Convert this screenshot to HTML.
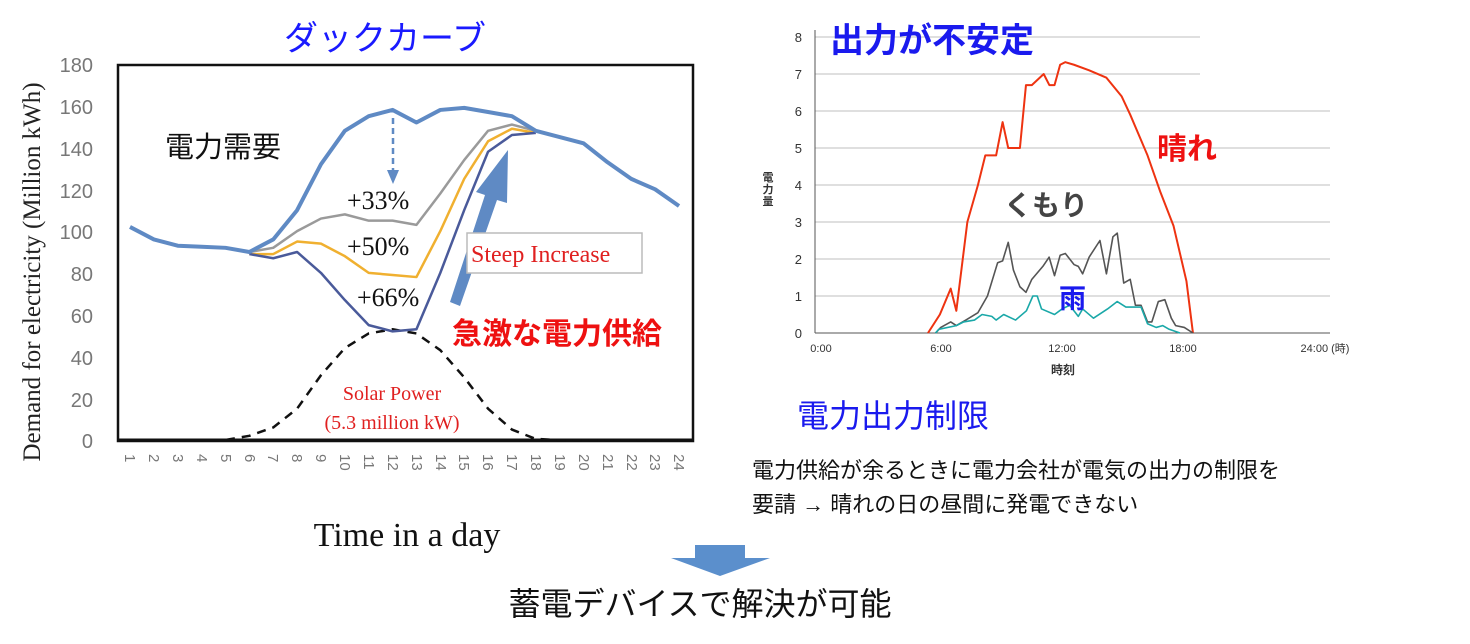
<!DOCTYPE html>
<html><head><meta charset="utf-8"><style>
html,body{margin:0;padding:0;background:#fff;width:1470px;height:644px;overflow:hidden}
svg{display:block}
.j{font-family:"Liberation Sans","Noto Sans CJK JP",sans-serif}
.s{font-family:"Liberation Serif","Noto Serif CJK SC",serif}
</style></head><body>
<svg width="1470" height="644" viewBox="0 0 1470 644" xmlns="http://www.w3.org/2000/svg">
<!-- LEFT CHART -->
<text x="385" y="50" class="j" font-size="34" fill="#1a1aff" text-anchor="middle">ダックカーブ</text>
<rect x="118" y="65" width="575" height="376" fill="none" stroke="#111" stroke-width="2.5"/>
<line x1="118" y1="440" x2="693" y2="440" stroke="#111" stroke-width="3"/>
<g class="j" font-size="20" fill="#777" text-anchor="end">
<text x="93" y="72">180</text><text x="93" y="114">160</text><text x="93" y="156">140</text>
<text x="93" y="198">120</text><text x="93" y="239">100</text><text x="93" y="281">80</text>
<text x="93" y="323">60</text><text x="93" y="365">40</text><text x="93" y="407">20</text><text x="93" y="448">0</text>
</g>
<text transform="translate(40,272) rotate(-90)" class="s" font-size="25" fill="#222" text-anchor="middle">Demand for electricity (Million kWh)</text>
<g class="j" font-size="15" fill="#777">
<text transform="translate(125,454) rotate(90)">1</text><text transform="translate(149,454) rotate(90)">2</text>
<text transform="translate(173,454) rotate(90)">3</text><text transform="translate(197,454) rotate(90)">4</text>
<text transform="translate(221,454) rotate(90)">5</text><text transform="translate(245,454) rotate(90)">6</text>
<text transform="translate(268,454) rotate(90)">7</text><text transform="translate(292,454) rotate(90)">8</text>
<text transform="translate(316,454) rotate(90)">9</text><text transform="translate(340,454) rotate(90)">10</text>
<text transform="translate(364,454) rotate(90)">11</text><text transform="translate(388,454) rotate(90)">12</text>
<text transform="translate(412,454) rotate(90)">13</text><text transform="translate(436,454) rotate(90)">14</text>
<text transform="translate(459,454) rotate(90)">15</text><text transform="translate(483,454) rotate(90)">16</text>
<text transform="translate(507,454) rotate(90)">17</text><text transform="translate(531,454) rotate(90)">18</text>
<text transform="translate(555,454) rotate(90)">19</text><text transform="translate(579,454) rotate(90)">20</text>
<text transform="translate(603,454) rotate(90)">21</text><text transform="translate(627,454) rotate(90)">22</text>
<text transform="translate(650,454) rotate(90)">23</text><text transform="translate(674,454) rotate(90)">24</text>
</g>
<text x="407" y="546" class="s" font-size="34" fill="#111" text-anchor="middle">Time in a day</text>
<g transform="translate(106.13,440) scale(23.87,-2.089)" fill="none" stroke-linejoin="round">
<polyline vector-effect="non-scaling-stroke" stroke="#111" stroke-width="2.5" stroke-dasharray="9,7" points="1,0 5,0 6,2 7,6 8,15 9,31 10,44 11,51 12,53 13,51 14,43 15,30 16,15 17,5 18,0.5 19,0 24,0"/>
<polyline vector-effect="non-scaling-stroke" stroke="#9a9a9a" stroke-width="2.5" points="6,90 7,92 8,100 9,106 10,108 11,105 12,105 13,103 14,118 15,134 16,148 17,151 18,148"/>
<polyline vector-effect="non-scaling-stroke" stroke="#f0b030" stroke-width="2.5" points="6,89 7,89 8,95 9,94 10,88 11,80 12,79 13,78 14,100 15,125 16,143 17,149 18,147"/>
<polyline vector-effect="non-scaling-stroke" stroke="#4a5a9a" stroke-width="2.5" points="6,89 7,87 8,90 9,80 10,67 11,55 12,52 13,53 14,80 15,110 16,138 17,146 18,147"/>
<polyline vector-effect="non-scaling-stroke" stroke="#5f8ac4" stroke-width="4" points="1,102 2,96 3,93 4,92.5 5,92 6,90 7,96 8,110 9,132 10,148 11,155 12,158 13,152 14,158 15,159 16,157 17,155 18,148 19,145 20,142 21,133 22,125 23,120 24,112"/>
</g>
<line x1="393" y1="118" x2="393" y2="172" stroke="#5f8ac4" stroke-width="2.5" stroke-dasharray="6,4"/>
<polygon points="387,170 399,170 393,184" fill="#5f8ac4"/>
<polygon points="450,302 485,195 476,192 508,150 507,203 497,200 460,306" fill="#5f8ac4"/>
<text x="165" y="157" class="j" font-size="29" fill="#111">電力需要</text>
<text x="347" y="209" class="s" font-size="26" fill="#111">+33%</text>
<text x="347" y="255" class="s" font-size="26" fill="#111">+50%</text>
<text x="357" y="306" class="s" font-size="26" fill="#111">+66%</text>
<rect x="467" y="233" width="175" height="40" fill="#fff" stroke="#bbb" stroke-width="1.5"/>
<text x="471" y="262" class="s" font-size="24" fill="#e02020">Steep Increase</text>
<text x="452" y="344" class="j" font-size="30" font-weight="bold" fill="#ee1111">急激な電力供給</text>
<text x="392" y="400" class="s" font-size="20" fill="#e02020" text-anchor="middle">Solar Power</text>
<text x="392" y="429" class="s" font-size="20" fill="#e02020" text-anchor="middle">(5.3 million kW)</text>

<!-- RIGHT CHART -->
<g stroke="#ccc" stroke-width="1.2">
<line x1="815" y1="37" x2="1200" y2="37"/><line x1="815" y1="74" x2="1200" y2="74"/>
<line x1="815" y1="111" x2="1330" y2="111"/><line x1="815" y1="148" x2="1330" y2="148"/>
<line x1="815" y1="185" x2="1330" y2="185"/><line x1="815" y1="222" x2="1330" y2="222"/>
<line x1="815" y1="259" x2="1330" y2="259"/><line x1="815" y1="296" x2="1330" y2="296"/>
</g>
<line x1="815" y1="30" x2="815" y2="333" stroke="#555" stroke-width="1"/>
<line x1="815" y1="333" x2="1330" y2="333" stroke="#555" stroke-width="1"/>
<g class="j" font-size="13" fill="#333" text-anchor="end">
<text x="802" y="42">8</text><text x="802" y="79">7</text><text x="802" y="116">6</text><text x="802" y="153">5</text>
<text x="802" y="190">4</text><text x="802" y="227">3</text><text x="802" y="264">2</text><text x="802" y="301">1</text><text x="802" y="338">0</text>
</g>
<g class="j" font-size="11" fill="#333" font-weight="bold">
<text x="768" y="181" text-anchor="middle">電</text><text x="768" y="193" text-anchor="middle">力</text><text x="768" y="205" text-anchor="middle">量</text>
</g>
<g class="j" font-size="11" fill="#333" text-anchor="middle">
<text x="821" y="352">0:00</text><text x="941" y="352">6:00</text><text x="1062" y="352">12:00</text><text x="1183" y="352">18:00</text><text x="1325" y="352">24:00 (時)</text>
</g>
<text x="1063" y="374" class="j" font-size="12" font-weight="bold" fill="#333" text-anchor="middle">時刻</text>
<g transform="translate(810.1,333) scale(21.63,-37)" fill="none" stroke-linejoin="round">
<polyline vector-effect="non-scaling-stroke" stroke="#ee3311" stroke-width="2" points="5.45,0 6,0.5 6.5,1.2 6.76,0.6 7.27,3 7.76,4 8.1,4.8 8.6,4.8 8.9,5.7 9.16,5 9.7,5 9.98,6.7 10.25,6.7 10.8,7 11.06,6.7 11.3,6.7 11.56,7.25 11.8,7.32 12.2,7.25 12.9,7.1 13.7,6.9 14.4,6.4 14.8,5.9 15.6,4.8 16.2,3.8 16.8,2.9 17.4,1.4 17.7,0"/>
<polyline vector-effect="non-scaling-stroke" stroke="#555" stroke-width="1.6" points="5.8,0 6.04,0.15 6.5,0.3 6.76,0.2 7.2,0.35 7.76,0.55 8.2,1 8.67,1.9 8.9,1.95 9.16,2.45 9.4,1.7 9.7,1.25 9.98,1.1 10.25,1.45 10.76,1.8 11.05,2.05 11.3,1.55 11.56,2.1 11.8,2.15 12.2,1.85 12.4,1.8 12.6,1.6 12.9,2.05 13.4,2.5 13.7,1.6 14,2.6 14.2,2.7 14.5,1.35 14.8,1.45 15.04,0.75 15.3,0.75 15.6,0.3 15.8,0.3 16.1,0.85 16.4,0.9 16.7,0.4 16.9,0.2 17.3,0.15 17.7,0"/>
<polyline vector-effect="non-scaling-stroke" stroke="#1aa8a8" stroke-width="1.6" points="5.8,0 5.95,0.1 6.76,0.2 7.1,0.3 7.6,0.35 7.95,0.5 8.4,0.45 8.6,0.35 8.95,0.5 9.5,0.35 10,0.6 10.3,1 10.5,1 10.7,0.65 11.3,0.5 11.65,0.65 12,0.75 12.4,0.45 12.6,0.65 13.1,0.4 13.75,0.65 14.2,0.85 14.6,0.7 15.3,0.7 15.6,0.25 16,0.15 16.3,0.2 16.6,0.1 17.1,0"/>
</g>
<text x="830" y="52" class="j" font-size="34" font-weight="bold" fill="#1a1aee">出力が不安定</text>
<text x="1157" y="159" class="j" font-size="30" font-weight="bold" fill="#ee1111">晴れ</text>
<text x="1004" y="215" class="j" font-size="28" font-weight="bold" fill="#444">くもり</text>
<text x="1059" y="308" class="j" font-size="27" font-weight="bold" fill="#1a1aee">雨</text>

<!-- BOTTOM TEXT -->
<text x="797" y="427" class="j" font-size="32" fill="#1a1aee">電力出力制限</text>
<text x="752" y="478" class="j" font-size="22" fill="#111">電力供給が余るときに電力会社が電気の出力の制限を</text>
<text x="752" y="512" class="j" font-size="22" fill="#111">要請  →  晴れの日の昼間に発電できない</text>
<polygon points="695,545 745,545 745,558 770,558 720,576 671,558 695,558" fill="#5b8fcc"/>
<text x="700" y="615" class="j" font-size="32" fill="#111" text-anchor="middle">蓄電デバイスで解決が可能</text>
</svg>
</body></html>
